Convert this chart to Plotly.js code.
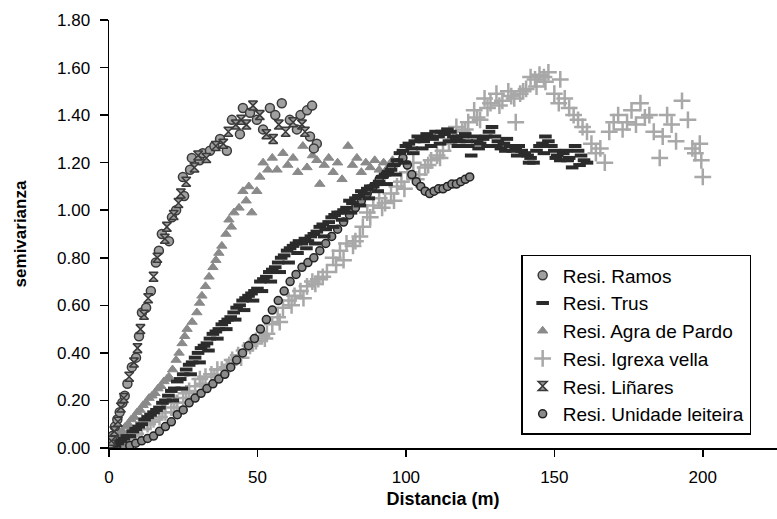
<!DOCTYPE html>
<html><head><meta charset="utf-8">
<script src="https://cdn.plot.ly/plotly-3.0.1.min.js"></script>
<style>html,body{margin:0;padding:0;background:#fff}#chart{width:777px;height:519px}</style>
</head><body><div id="chart"></div>
<script>
// Resi. Ramos
const ramosX = [0.5,1.2,2.0,2.8,3.6,4.5,5.3,6.2,7.7,9.1,10.1,11.1,12.5,14.1,15.8,16.8,17.8,20.2,21.2,22.6,24.9,25.3,27.3,27.9,30.5,31.6,34.0,35.5,37.4,39.7,41.4,44.1,45.1,47.5,49.8,51.9,54.2,56.0,58.2,60.9,63.3,64.5,66.7,68.4,67.7,70.0,69.0];
const ramosY = [0.02,0.05,0.09,0.12,0.15,0.19,0.22,0.27,0.34,0.38,0.47,0.57,0.59,0.66,0.78,0.83,0.90,0.87,0.97,1.00,1.14,1.06,1.17,1.22,1.21,1.24,1.25,1.27,1.30,1.25,1.38,1.32,1.43,1.41,1.38,1.34,1.43,1.40,1.45,1.38,1.34,1.40,1.42,1.44,1.31,1.28,1.26];
// Resi. Trus
const trusX = [1,2,3,4,5,6,7,8,9,10,11,12,13,14,15,16,17,18,19,20,21,22,23,24,25,26,27,28,29,30,31,32,33,34,35,36,37,38,39,40,41,42,43,44,45,46,47,48,49,50,51,52,53,54,55,56,57,58,59,60,61,62,63,64,65,66,67,68,69,70,71,72,73,74,75,76,77,78,79,80,81,82,83,84,85,86,87,88,89,90,91,92,93,94,95,96,97,98,99,100,
  101,102,103,104,105,106,107,108,109,110,111,112,113,114,115,116,117,118,119,120,121,122,123,124,125,126,127,128,129,130,131,132,133,134,135,136,137,138,139,140,141,142,143,144,145,146,147,148,149,150,151,152,153,154,155,156,157,158,159,160,161,
  102.5,105.5,108.5,111.5,114.5,117.5,120.5,124.5,127.5,130.5,133.5,137.5,141.5,146.5,150.5,154.5,158.5,
  21.5,24.5,27.5,30.5,33.5,36.5,39.5,42.5,45.5,48.5,51.5,54.5,57.5,60.5,63.5,66.5,69.5,72.5,75.5,78.5,81.5,84.5,87.5,90.5,93.5,96.5,99.5];
const trusY = [0.01,0.01,0.02,0.03,0.04,0.05,0.05,0.07,0.08,0.09,0.10,0.12,0.13,0.14,0.15,0.16,0.17,0.19,0.20,0.22,0.24,0.25,0.28,0.29,0.31,0.33,0.35,0.36,0.38,0.40,0.42,0.43,0.44,0.46,0.48,0.49,0.50,0.52,0.53,0.54,0.55,0.57,0.59,0.60,0.62,0.63,0.64,0.65,0.66,0.67,0.70,0.71,0.72,0.74,0.75,0.76,0.78,0.80,0.81,0.83,0.84,0.85,0.86,0.87,0.86,0.88,0.87,0.89,0.90,0.91,0.93,0.94,0.92,0.95,0.97,0.98,0.99,0.99,1.00,1.01,1.04,1.03,1.05,1.06,1.08,1.07,1.09,1.10,1.10,1.11,1.12,1.14,1.15,1.16,1.17,1.19,1.21,1.24,1.25,1.27,
  1.28,1.26,1.29,1.31,1.30,1.29,1.32,1.31,1.30,1.33,1.31,1.33,1.32,1.34,1.33,1.31,1.30,1.29,1.31,1.32,1.27,1.23,1.31,1.29,1.28,1.30,1.31,1.33,1.35,1.31,1.29,1.26,1.28,1.30,1.27,1.25,1.26,1.27,1.25,1.24,1.23,1.22,1.20,1.25,1.27,1.28,1.31,1.29,1.27,1.25,1.23,1.21,1.24,1.25,1.22,1.18,1.27,1.25,1.23,1.21,1.20,
  1.24,1.26,1.27,1.28,1.29,1.27,1.29,1.26,1.27,1.27,1.25,1.23,1.20,1.24,1.22,1.21,1.19,
  0.20,0.25,0.31,0.36,0.41,0.46,0.50,0.54,0.58,0.62,0.66,0.70,0.74,0.78,0.82,0.84,0.86,0.89,0.93,0.96,0.99,1.02,1.05,1.08,1.11,1.15,1.20];
// Resi. Agra de Pardo
const agraX = [0.5,1.5,2.5,3.5,4.5,5.5,6.5,7.5,8.5,9.5,10.5,11.5,12.5,13.5,14.5,15.5,16.5,17.5,18.5,19.5,20.2,21.4,22.6,23.6,24.6,25.5,26.3,28.0,29.6,30.5,31.3,32.5,33.7,35.0,36.0,37.0,38.0,39.4,40.4,41.2,42.1,43.8,45.1,46.2,47.1,48.1,49.8,50.8,51.9,53.5,55.0,56.6,58.6,60.2,62.0,63.6,65.3,66.7,68.5,70.0,71.0,72.5,74.0,75.5,77.0,78.5,80.5,82.0,83.5,85.0,86.5,88.0,89.5,91.0,92.5,94.0,95.5];
const agraY = [0.01,0.03,0.04,0.06,0.07,0.09,0.10,0.12,0.13,0.15,0.16,0.18,0.19,0.21,0.22,0.23,0.25,0.26,0.28,0.29,0.30,0.33,0.37,0.40,0.44,0.47,0.50,0.53,0.57,0.61,0.64,0.68,0.72,0.76,0.79,0.82,0.85,0.90,0.96,0.93,0.99,1.01,1.08,1.04,1.10,0.99,1.08,1.14,1.20,1.17,1.22,1.17,1.24,1.19,1.22,1.16,1.27,1.18,1.23,1.21,1.11,1.19,1.22,1.16,1.20,1.13,1.27,1.19,1.22,1.16,1.20,1.18,1.21,1.17,1.20,1.18,1.21];
// Resi. Igrexa vella
const igrexaX = [1,3,5,7,9,11,13,15,17,19,21,23,25,27,29,30.6,32.5,34.5,36.5,38,39.7,41.5,43.5,45.5,47.5,49.5,51.5,53.2,55,56.8,58.6,60.5,62.5,64.5,66.7,68.5,70.5,73.4,75.5,77.8,80,82.2,84.5,87,89,91,93,95,97,98.5,100.5,102.5,104.5,106.5,108.5,110.5,112.5,114.5,117,119,121,123,125,126.5,128.5,130.5,132.5,134.5,136.5,137,138.5,140.5,142,143.5,145,146.5,148,150,151.5,152,153.5,155,156.5,158,159.5,161,162.5,164,165.5,167,168.5,170,171.5,173,174.5,176,177.5,179,180.5,182,183.5,185.5,186.5,188,189.5,191,193,195,196.5,197.5,199,199.5,200,
  2,6,10,14,18,22,26,31.5,35.5,40.5,44.5,48.5,52.5,57.5,61.5,65.5,69.5,72,76.5,79,83,85.5,88,92,96,99.5,103.5,107.5,111.5,116,120,124,127.5,131.5,135.5,139.5,144,147];
const igrexaY = [0.01,0.02,0.03,0.05,0.06,0.08,0.10,0.12,0.13,0.15,0.17,0.19,0.21,0.24,0.26,0.29,0.30,0.31,0.33,0.33,0.34,0.37,0.39,0.41,0.43,0.45,0.47,0.48,0.52,0.55,0.59,0.62,0.64,0.66,0.68,0.70,0.71,0.74,0.80,0.83,0.86,0.85,0.89,0.99,1.02,1.05,1.03,1.07,1.10,1.12,1.16,1.20,1.15,1.18,1.21,1.23,1.25,1.28,1.35,1.33,1.37,1.42,1.38,1.47,1.45,1.49,1.46,1.50,1.47,1.37,1.49,1.51,1.56,1.55,1.57,1.56,1.58,1.49,1.45,1.55,1.47,1.43,1.40,1.38,1.35,1.33,1.28,1.24,1.26,1.20,1.33,1.37,1.40,1.34,1.37,1.42,1.36,1.45,1.39,1.40,1.33,1.22,1.31,1.40,1.36,1.29,1.46,1.38,1.26,1.24,1.28,1.21,1.14,
  0.02,0.04,0.08,0.11,0.15,0.19,0.23,0.27,0.30,0.35,0.38,0.44,0.46,0.53,0.60,0.63,0.69,0.72,0.77,0.79,0.87,0.93,0.97,1.01,1.04,1.09,1.13,1.19,1.22,1.30,1.34,1.39,1.43,1.44,1.48,1.50,1.52,1.54];
// Resi. Liñares
const linaresX = [0.8,1.8,3.0,4.0,5.0,6.8,8.4,9.6,10.6,11.8,13.2,15.0,16.3,18.8,19.5,21.8,23.4,24.2,26.0,28.8,30.0,32.8,36.0,38.5,40.2,42.7,44.5,46.3,48.5,50.8,53.0,55.3,57.2,59.5,62.0,65.0,66.0];
const linaresY = [0.03,0.07,0.11,0.17,0.21,0.30,0.36,0.42,0.50,0.56,0.63,0.72,0.80,0.88,0.93,0.98,1.03,1.07,1.12,1.18,1.23,1.22,1.27,1.28,1.33,1.36,1.38,1.36,1.44,1.40,1.32,1.30,1.36,1.33,1.37,1.36,1.33];
// Resi. Unidade leiteira
const unidadeX = [3,5,7,9,11,13,15,17,19,21,23,25,27,29,31,33,35,37,39,41,43,45,47,49,51,53,55,57,59,61,63,65,67,69,71,73,75,77,79,81,83,85,87,89,91,93,95,97,99,100.5,102,103.5,105,106.5,108,109.5,111,112.5,114,115.5,117,118.5,120,121.5];
const unidadeY = [0.00,0.01,0.01,0.02,0.03,0.04,0.05,0.07,0.09,0.11,0.14,0.16,0.19,0.21,0.23,0.25,0.27,0.29,0.31,0.34,0.37,0.40,0.43,0.46,0.50,0.54,0.58,0.62,0.66,0.70,0.73,0.76,0.78,0.80,0.83,0.86,0.89,0.92,0.95,0.98,1.01,1.04,1.07,1.10,1.13,1.15,1.18,1.20,1.22,1.19,1.15,1.12,1.10,1.08,1.07,1.08,1.09,1.09,1.10,1.11,1.11,1.12,1.13,1.14];

const xTicks = [0,50,100,150,200];
const yTicks = [0,0.2,0.4,0.6,0.8,1.0,1.2,1.4,1.6,1.8];

const FONT = '"Liberation Sans", Arial, sans-serif';

function tr(name, x, y, marker, rank) {
  return {type:'scatter', mode:'markers', name:name, x:x, y:y, marker:marker,
          legendrank:rank, legendgroup:name, hoverinfo:'skip'};
}

const data = [
  tr('Resi. Igrexa vella', igrexaX, igrexaY, {symbol:'cross-thin', size:12, line:{color:'#a8a8a8', width:2.5}}, 4),
  tr('Resi. Agra de Pardo', agraX, agraY, {symbol:'triangle-up', size:9, color:'#8a8a8a', line:{color:'#8a8a8a', width:1}}, 3),
  tr('Resi. Unidade leiteira', unidadeX, unidadeY, {symbol:'circle', size:8, color:'#8a8a8a', line:{color:'#222', width:1.5}}, 6),
  tr('Resi. Trus', trusX, trusY, {symbol:'line-ew', size:9, line:{color:'#2b2b2b', width:4}}, 2),
  tr('Resi. Ramos', ramosX, ramosY, {symbol:'circle', size:9, color:'#a0a0a0', line:{color:'#3a3a3a', width:1.5}}, 1),
  tr('Resi. Liñares', linaresX, linaresY, {symbol:'hourglass', size:9, color:'#9a9a9a', line:{color:'#3a3a3a', width:1.5}}, 5)
];

const layout = {
  width:777, height:519,
  margin:{l:109, r:0, t:20, b:71},
  paper_bgcolor:'#fff', plot_bgcolor:'#fff',
  font:{family:FONT, color:'#000', size:17},
  showlegend:true,
  legend:{x:0.617, y:0.451, xanchor:'left', yanchor:'top',
          bgcolor:'#fff', bordercolor:'#000', borderwidth:1.5,
          font:{family:FONT, size:19, color:'#000'},
          traceorder:'grouped', tracegroupgap:0, itemwidth:30},
  xaxis:{range:[0,225], tickvals:xTicks, ticktext:xTicks.map(String),
         ticks:'outside', ticklen:7, tickwidth:1.5, tickcolor:'#000',
         showline:true, linecolor:'#000', linewidth:1.5, showgrid:false, zeroline:false,
         tickfont:{family:FONT, size:17}, ticklabelstandoff:6,
         title:{text:'<b>Distancia (m)</b>', font:{family:FONT, size:18}, standoff:6}},
  yaxis:{range:[0,1.8], tickvals:yTicks, ticktext:yTicks.map(v=>v.toFixed(2)),
         ticks:'outside', ticklen:8, tickwidth:1.5, tickcolor:'#000',
         showline:true, linecolor:'#000', linewidth:1.5, showgrid:false, zeroline:false,
         tickfont:{family:FONT, size:17}, ticklabelstandoff:6,
         title:{text:'<b>semivarianza</b>', font:{family:FONT, size:17}, standoff:26}}
};

Plotly.newPlot('chart', data, layout, {staticPlot:true, displayModeBar:false});
</script></body></html>
